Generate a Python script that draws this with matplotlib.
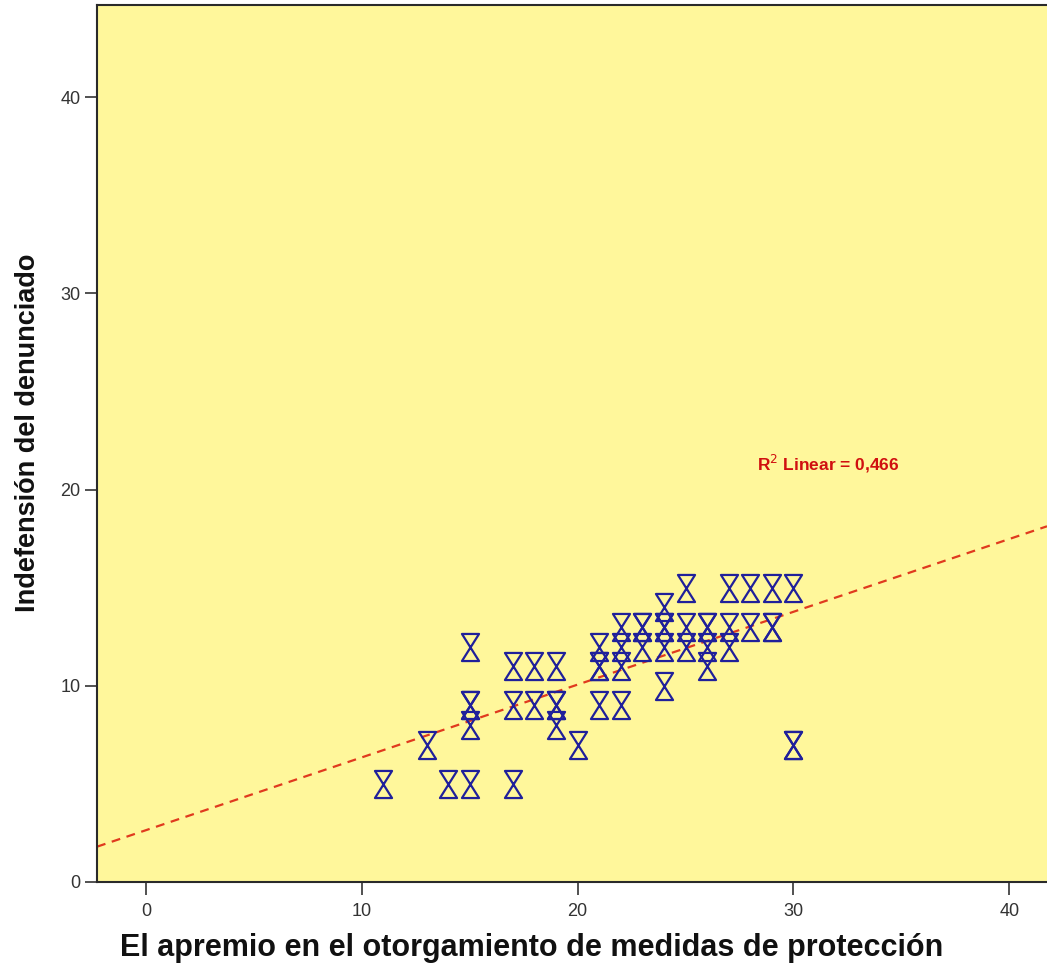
import matplotlib
matplotlib.use("Agg")
import matplotlib.pyplot as plt
import numpy as np
from matplotlib.path import Path

# ---- data ----
x_vals = [11, 13, 14, 15, 15, 15, 15, 15, 17, 17, 17, 18, 18, 19, 19, 19, 19, 20,
          21, 21, 21, 21, 22, 22, 22, 22, 23, 23, 23, 24, 24, 24, 24, 24,
          25, 25, 25, 26, 26, 26, 26, 27, 27, 27, 28, 28, 29, 29, 29, 30, 30, 30]
y_vals = [5, 7, 5, 5, 8, 9, 9, 12, 5, 9, 11, 9, 11, 8, 9, 9, 11, 7,
          9, 11, 11, 12, 9, 11, 12, 13, 12, 13, 13, 10, 12, 13, 13, 14,
          12, 13, 15, 11, 12, 13, 13, 12, 13, 15, 13, 15, 13, 13, 15, 7, 7, 15]
x_ticks = [0, 10, 20, 30, 40]
y_ticks = [0, 10, 20, 30, 40]
x_label = "El apremio en el otorgamiento de medidas de protección"
y_label = "Indefensión del denunciado"
r2_text = "R$^{2}$ Linear = 0,466"

# ---- figure ----
fig = plt.figure(figsize=(10.47, 9.74), dpi=100)
ax = fig.add_axes([97 / 1047, (974 - 882) / 974, 1 - 97 / 1047, (882 - 5) / 974])
ax.set_facecolor("#FFF79B")
xlim = (-2.27, 41.75)
ax.set_xlim(*xlim)
ax.set_ylim(0, 44.7)

# hourglass marker
w = 0.63
hourglass = Path([(-w, 1), (w, 1), (-w, -1), (w, -1), (-w, 1)],
                 [Path.MOVETO, Path.LINETO, Path.LINETO, Path.LINETO, Path.CLOSEPOLY])
ax.plot(x_vals, y_vals, linestyle="none", marker=hourglass, markersize=19.5,
        markerfacecolor="none", markeredgecolor="#20209A", markeredgewidth=1.6, zorder=3)

# fit line
slope, intercept = np.polyfit(x_vals, y_vals, 1)
xx = np.array(xlim)
ax.plot(xx, intercept + slope * xx, color="#E03A1E", linestyle=(0, (4, 3)), linewidth=1.6, zorder=2)

ax.text(28.3, 21.3, r2_text, color="#D01010", fontsize=12.5, fontweight="bold",
        family="Liberation Sans", va="center", ha="left")

ax.set_xticks(x_ticks)
ax.set_yticks(y_ticks)
ax.tick_params(axis="both", direction="out", length=9, width=1.2, color="#333333",
               labelsize=13, labelcolor="#333333")
ax.tick_params(axis="x", pad=6)
ax.tick_params(axis="y", pad=3)
for lab in ax.get_xticklabels() + ax.get_yticklabels():
    lab.set_family(["Liberation Sans"])

for s in ["left", "bottom", "top"]:
    ax.spines[s].set_color("#2a2a2a")
    ax.spines[s].set_linewidth(1.5)
ax.spines["right"].set_visible(False)

ax.set_xlabel(x_label, fontsize=22, fontweight="bold",
              family=["Liberation Sans"], color="#111111")
ax.set_ylabel(y_label, fontsize=19.5, fontweight="bold",
              family=["Liberation Sans"], color="#111111")
ax.xaxis.label.set_va("center")
ax.yaxis.label.set_va("center")
ax.xaxis.set_label_coords(0.457, -0.075)
ax.yaxis.set_label_coords(-0.073, 0.512)

fig.savefig("out.png", dpi=100)
